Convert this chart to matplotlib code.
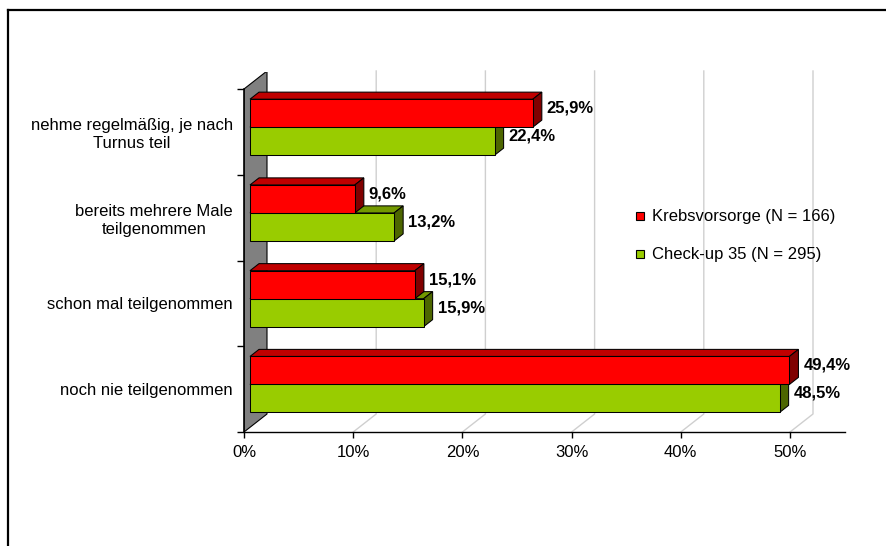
import matplotlib
matplotlib.use("Agg")
import matplotlib.pyplot as plt
from matplotlib.patches import Polygon
from matplotlib.lines import Line2D

plt.rcParams['font.family'] = ['Liberation Sans', 'DejaVu Sans']

# ---- data ----
categories = ["nehme regelmäßig, je nach\nTurnus teil",
              "bereits mehrere Male\nteilgenommen",
              "schon mal teilgenommen",
              "noch nie teilgenommen"]
krebsvorsorge = [25.9, 9.6, 15.1, 49.4]
checkup35 = [22.4, 13.2, 15.9, 48.5]
series_names = ["Krebsvorsorge (N = 166)", "Check-up 35 (N = 295)"]
x_ticks = [0, 10, 20, 30, 40, 50]
x_ticklabels = ["0%", "10%", "20%", "30%", "40%", "50%"]

# ---- styles ----
W, H = 886, 546
PX_X = 10.92      # pixels per percent
PX_Y = 85.75      # pixels per category
DX = 23 / PX_X    # depth offset (data units)
DY = 18 / PX_Y
Z0, Z1 = 6 / 23, 15 / 23
BAR_H = 28 / PX_Y
red_cols = ("#FF0000", "#C00000", "#800000")
grn_cols = ("#99CC00", "#739900", "#4D6600")

fig = plt.figure(figsize=(W / 100, H / 100), dpi=100)
ax = fig.add_axes([244 / W, (H - 432) / H, 601 / W, 360 / H])
ax.set_xlim(0, 601 / PX_X)
ax.set_ylim(0, 360 / PX_Y)
ax.patch.set_alpha(0)

def proj(x, y, z):
    return (x + z * DX, y + z * DY)

ncat = len(categories)

# left wall
wall = Polygon([proj(0, 0, 0), proj(0, ncat, 0), proj(0, ncat, 1), proj(0, 0, 1)],
               closed=True, facecolor="#808080", edgecolor="black", lw=0.8, zorder=1)
ax.add_patch(wall)

# gridlines (floor diagonal + back wall vertical)
for v in x_ticks[1:]:
    p0, p1, p2 = proj(v, 0, 0), proj(v, 0, 1), proj(v, ncat, 1)
    ax.plot([p0[0], p1[0], p2[0]], [p0[1], p1[1], p2[1]], color="#CFCFCF",
            lw=1.0, zorder=0.5, clip_on=False)

def bar3d(v, yb, yt, cols):
    front, top, side = cols
    kw = dict(closed=True, edgecolor="black", lw=0.75, zorder=3, clip_on=False)
    ax.add_patch(Polygon([proj(0, yt, Z0), proj(v, yt, Z0), proj(v, yt, Z1), proj(0, yt, Z1)],
                         facecolor=top, **kw))
    ax.add_patch(Polygon([proj(v, yb, Z0), proj(v, yt, Z0), proj(v, yt, Z1), proj(v, yb, Z1)],
                         facecolor=side, **kw))
    ax.add_patch(Polygon([proj(0, yb, Z0), proj(v, yb, Z0), proj(v, yt, Z0), proj(0, yt, Z0)],
                         facecolor=front, **kw))

def value_label(v, yc):
    x = proj(v, yc, Z1)[0] + 5 / PX_X
    y = yc + Z0 * DY + 5 / PX_Y
    ax.text(x, y, f"{v:.1f}%".replace(".", ","), ha="left", va="center",
            fontsize=12, fontweight="bold", zorder=5, clip_on=False)

for k in range(ncat):
    c = ncat - k - 0.5
    bar3d(checkup35[k], c - BAR_H, c, grn_cols)
    bar3d(krebsvorsorge[k], c, c + BAR_H, red_cols)
    value_label(krebsvorsorge[k], c + BAR_H / 2)
    value_label(checkup35[k], c - BAR_H / 2)

# axes
for s in ["top", "right"]:
    ax.spines[s].set_visible(False)
ax.spines["bottom"].set_linewidth(1.0)
ax.spines["left"].set_linewidth(1.2)
ax.spines["left"].set_bounds(0, ncat)
ax.set_xticks(x_ticks)
ax.set_xticklabels(x_ticklabels)
ax.tick_params(axis="x", direction="out", length=4.5, width=1.0, pad=5, labelsize=12)
ax.set_yticks(range(ncat + 1))
ax.set_yticklabels([""] * (ncat + 1))
ax.tick_params(axis="y", which="major", direction="out", length=5, width=1.0)
ax.set_yticks([ncat - k - 0.5 for k in range(ncat)], minor=True)
ax.set_yticklabels(categories, minor=True)
ax.tick_params(axis="y", which="minor", length=0, pad=8, labelsize=12)
for lbl in ax.get_yticklabels(minor=True):
    lbl.set_multialignment("center")

# legend
leg_x = (640 - 244) / PX_X
leg_y = [(432 - 216) / PX_Y, (432 - 254) / PX_Y]
for name, col, ly in zip(series_names, [red_cols[0], grn_cols[0]], leg_y):
    ax.plot([leg_x], [ly], marker="s", markersize=6, markerfacecolor=col,
            markeredgecolor="black", markeredgewidth=0.8, ls="none", clip_on=False, zorder=5)
    ax.text(leg_x + 12 / PX_X, ly, name, ha="left", va="center", fontsize=12,
            clip_on=False, zorder=5)

# outer frame
fig.add_artist(Line2D([8 / W, 1.0], [1 - 10 / H, 1 - 10 / H], color="black",
                      lw=1.6, transform=fig.transFigure))
fig.add_artist(Line2D([8 / W, 8 / W], [1 - 10 / H, 0.0], color="black",
                      lw=1.6, transform=fig.transFigure))

fig.savefig("out.png", dpi=100)
